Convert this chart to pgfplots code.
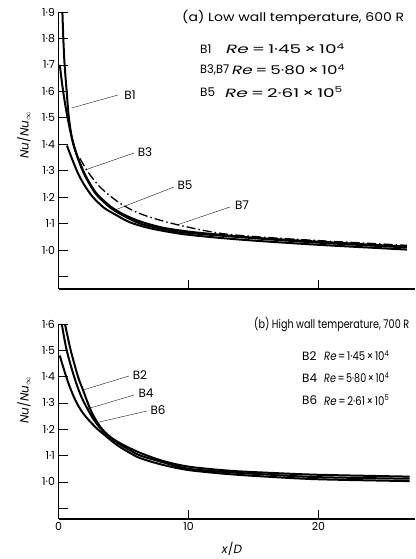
\documentclass[border=0pt]{standalone}
\usepackage{pgfplots}
\pgfplotsset{compat=1.18}
\usepackage{fontspec}
\setmainfont{Poppins}
\begin{document}
\fontsize{10}{12}\selectfont
\begin{tikzpicture}[x=1pt,y=1pt]
\path[use as bounding box] (0,0) rectangle (415,559);
\pgfplotsset{
 myax/.style={scale only axis, width=356.5pt, xmin=0, xmax=27.42,
  axis x line*=bottom, axis y line*=left, axis line style={-, line width=1.2pt},
  tick align=inside, major tick length=9pt, tick style={line width=0.7pt, black},
  /pgf/number format/assume math mode=true, clip=false,
  tick label style={font=\fontsize{11}{13}\selectfont},
  every axis plot/.append style={smooth, line width=2pt, black, no markers}},
}
% ---------- (a) ----------
\begin{axis}[myax, at={(58.5pt,270pt)}, anchor=south west, height=277pt,
  ymin=0.853, ymax=1.9,
  ytick={0.9,1,1.1,1.2,1.3,1.4,1.5,1.6,1.7,1.8,1.9},
  yticklabels={,1·0,1·1,1·2,1·3,1·4,1·5,1·6,1·7,1·8,1·9},
  xtick={10,20}, xticklabels={}]
% B1
\addplot[black] coordinates {(0.3,1.9) (0.37,1.8) (0.47,1.7) (0.63,1.6) (0.8,1.5) (1.14,1.4) (1.9,1.3) (2.5,1.245) (3,1.21) (4,1.165) (5,1.135) (6.3,1.108) (8,1.085) (10,1.07) (12,1.06) (15,1.047) (20,1.032) (26.8,1.013)};
% B3
\addplot[black] coordinates {(0.1,1.7) (0.3,1.62) (0.5,1.555) (0.7,1.5) (1.0,1.43) (1.4,1.36) (1.9,1.295) (2.5,1.24) (3,1.205) (4,1.16) (5,1.13) (6.3,1.1) (8,1.08) (10,1.065) (15,1.045) (20,1.028) (26.8,1.01)};
% B5
\addplot[black] coordinates {(0.65,1.395) (1,1.35) (1.5,1.29) (2,1.245) (2.65,1.2) (3.5,1.16) (4.35,1.135) (5.5,1.105) (7,1.083) (9.35,1.062) (12,1.048) (15,1.036) (20,1.02) (26.8,1.002)};
% B7
\addplot[black, line width=1.3pt, dash pattern=on 9pt off 3pt on 1.5pt off 3pt] coordinates {(1.65,1.347) (2.2,1.3) (3.2,1.238) (4.5,1.185) (5.7,1.15) (7,1.125) (8.8,1.1) (11.1,1.075) (13,1.06) (16,1.048) (20,1.036) (26.8,1.018)};
\end{axis}
% ---------- (b) ----------
\begin{axis}[myax, at={(58.5pt,40pt)}, anchor=south west, height=195pt,
  ymin=0.859, ymax=1.6,
  ytick={0.9,1,1.1,1.2,1.3,1.4,1.5,1.6},
  yticklabels={,1·0,1·1,1·2,1·3,1·4,1·5,1·6},
  xtick={0,10,20}, xticklabels={0,10,20}]
% B2
\addplot[black] coordinates {(0.5,1.6) (0.94,1.5) (1.5,1.4) (1.88,1.35) (2.5,1.27) (3.2,1.21) (4,1.17) (5,1.14) (6.3,1.11) (8,1.08) (10,1.058) (13,1.043) (16,1.035) (20,1.027) (27,1.02)};
% B4
\addplot[black] coordinates {(0.25,1.6) (0.63,1.5) (1.2,1.4) (1.7,1.33) (2.2,1.28) (2.8,1.23) (3.5,1.19) (4.5,1.15) (5.5,1.12) (6.3,1.1) (8,1.075) (10,1.05) (13,1.037) (16,1.028) (20,1.018) (27,1.012)};
% B6
\addplot[black] coordinates {(0.1,1.48) (0.4,1.43) (0.8,1.37) (1.3,1.31) (1.9,1.26) (2.8,1.21) (3.5,1.18) (4.5,1.14) (5.5,1.11) (6.3,1.09) (8,1.065) (10,1.045) (13,1.03) (16,1.02) (20,1.01) (27,1.003)};
\end{axis}
% ---------- annotations ----------
\begin{scope}[every node/.style={font=\fontsize{12}{14}\selectfont, inner sep=0pt}]
\draw[line width=0.35pt] (71.5,451) -- (118,464); \node at (130,464) {B1};
\draw[line width=0.35pt] (85,389) -- (134,406); \node at (145,407) {B3};
\draw[line width=0.35pt] (115,349) -- (174,372); \node at (185,374) {B5};
\draw[line width=0.35pt] (177,334) -- (230,352); \node at (242,354) {B7};
\node[anchor=west] at (182,542) {\resizebox{222pt}{\height}{(a) Low wall temperature, 600 R}};
\node[anchor=west] at (200,510) {B1}; \node[anchor=west] at (226,510) {\resizebox{119pt}{\height}{\textit{Re}\,=\,1·45\,×\,10\textsuperscript{4}}};
\node[anchor=west] at (200,489) {\resizebox{29pt}{\height}{B3,B7}}; \node[anchor=west] at (232,489) {\resizebox{113pt}{\height}{\textit{Re}\,=\,5·80\,×\,10\textsuperscript{4}}};
\node[anchor=west] at (200,467) {B5}; \node[anchor=west] at (225,467) {\resizebox{118pt}{\height}{\textit{Re}\,=\,2·61\,×\,10\textsuperscript{5}}};
\draw[line width=0.35pt] (83,169) -- (129,183); \node at (140,184) {B2};
\draw[line width=0.35pt] (87,150) -- (134,164); \node at (146,166) {B4};
\draw[line width=0.35pt] (95,136) -- (147,148); \node at (158,149) {B6};
\node[anchor=west] at (254,234) {\resizebox{155pt}{\height}{(b) High wall temperature, 700 R}};
\node[anchor=west] at (302,203) {B2}; \node[anchor=west] at (324,203) {\resizebox{65pt}{\height}{\textit{Re}\,=\,1·45\,×\,10\textsuperscript{4}}};
\node[anchor=west] at (302,181) {B4}; \node[anchor=west] at (324,181) {\resizebox{65pt}{\height}{\textit{Re}\,=\,5·80\,×\,10\textsuperscript{4}}};
\node[anchor=west] at (302,159) {B6}; \node[anchor=west] at (324,159) {\resizebox{65pt}{\height}{\textit{Re}\,=\,2·61\,×\,10\textsuperscript{5}}};
\node[rotate=90] at (24,424) {\textit{Nu}/\textit{Nu}$_{\infty}$};
\node[rotate=90] at (24,159) {\textit{Nu}/\textit{Nu}$_{\infty}$};
\node at (232,10) {\textit{x}/\textit{D}};
\end{scope}
\end{tikzpicture}
\end{document}
